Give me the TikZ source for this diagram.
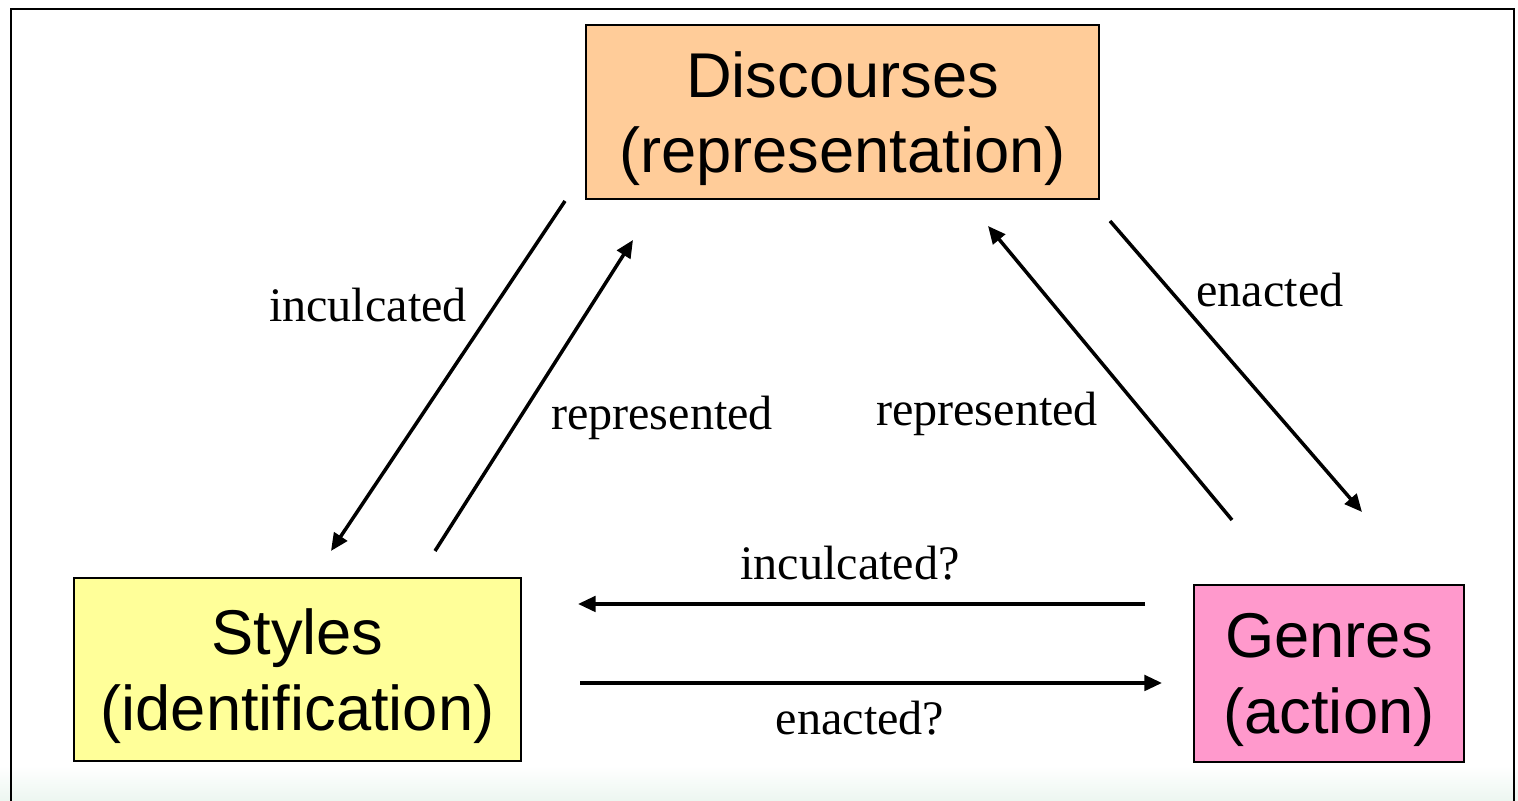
\documentclass[tikz,border=0pt]{standalone}
\usepackage{fontspec}
\setmainfont{Liberation Serif}
\setsansfont{Liberation Sans}
\usetikzlibrary{arrows.meta}
\definecolor{peach}{RGB}{255, 204, 153}
\definecolor{lemon}{RGB}{255, 255, 153}
\definecolor{rose}{RGB}{255, 153, 204}
\definecolor{mint}{RGB}{236, 246, 240}

\begin{document}
\begin{tikzpicture}[
      box/.style={draw, line width=0.6pt, align=center, inner sep=0pt, text depth=0pt, font=\sffamily\fontsize{18}{21.5}\selectfont},
      lbl/.style={font=\fontsize{13.7}{16}\selectfont},
      arrow/.style={-{Triangle[length=5pt,width=4.4pt]}, line width=1pt}
    ]
      \useasboundingbox (0,0) rectangle (15.18,8.01);

      % Background
      \shade[top color=white, bottom color=mint] (0,0) rectangle (15.18,0.35);
      \draw[line width=0.8pt] (0.11,0) -- (0.11,7.92) -- (15.14,7.92) -- (15.14,0);

      % Boxes
      \node[box, fill=peach, minimum width=5.13cm, minimum height=1.74cm] (disc) at (8.425,6.89) {Discourses\\(representation)};
      \node[box, fill=lemon, minimum width=4.47cm, minimum height=1.83cm] (styl) at (2.975,1.315) {Styles\\(identification)};
      \node[box, fill=rose, minimum width=2.70cm, minimum height=1.77cm] (genr) at (13.29,1.275) {Genres\\(action)};

      % Arrow ends
      \coordinate (ds1) at (5.65,6.00);
      \coordinate (ds2) at (3.31,2.50);
      \coordinate (sd1) at (4.35,2.50);
      \coordinate (sd2) at (6.33,5.61);
      \coordinate (gd1) at (12.32,2.81);
      \coordinate (gd2) at (9.88,5.75);
      \coordinate (dg1) at (11.10,5.80);
      \coordinate (dg2) at (13.62,2.89);
      \coordinate (gs1) at (11.45,1.97);
      \coordinate (gs2) at (5.78,1.97);
      \coordinate (sg1) at (5.80,1.18);
      \coordinate (sg2) at (11.62,1.18);

      % Arrows
      \draw[arrow] (ds1) -- (ds2);
      \draw[arrow] (sd1) -- (sd2);
      \draw[arrow] (gd1) -- (gd2);
      \draw[arrow] (dg1) -- (dg2);
      \draw[arrow] (gs1) -- (gs2);
      \draw[arrow] (sg1) -- (sg2);

      % Labels
      \node[lbl] (l1) at (3.68,4.96) {inculcated};
      \node[lbl] (l2) at (6.62,3.83) {represented};
      \node[lbl] (l3) at (9.87,3.87) {represented};
      \node[lbl] (l4) at (12.70,5.11) {enacted};
      \node[lbl] (l5) at (8.50,2.38) {inculcated?};
      \node[lbl] (l6) at (8.60,0.83) {enacted?};
    \end{tikzpicture}
\end{document}
